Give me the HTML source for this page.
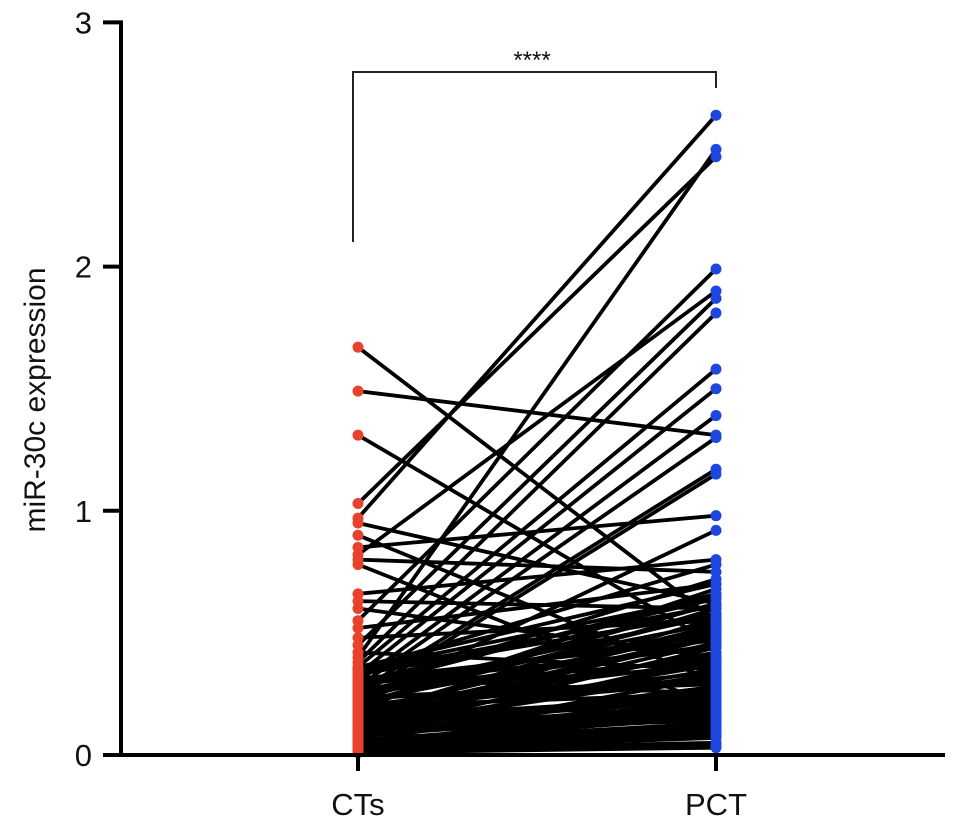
<!DOCTYPE html>
<html><head><meta charset="utf-8"><style>
html,body{margin:0;padding:0;background:#fff;}
svg{display:block;font-family:"Liberation Sans",Arial,sans-serif;}
</style></head><body>
<svg id="chart" width="969" height="833" viewBox="0 0 969 833"></svg>
<script>
const groups = ["CTs", "PCT"];
const yTicks = [0, 1, 2, 3];
const ctValues = [1.67,1.49,1.31,1.03,0.97,0.95,0.90,0.85,0.82,0.80,0.78,0.66,0.63,0.60,0.55,0.52,0.48,0.45,0.42,0.40,0.38,0.36,0.35,0.33,0.32,0.30,0.29,0.28,0.27,0.26,0.25,0.24,0.23,0.22,0.21,0.20,0.19,0.18,0.17,0.16,0.15,0.14,0.13,0.12,0.11,0.10,0.09,0.08,0.07,0.06,0.05,0.04,0.03,0.02,0.30,0.22,0.12,0.35,0.18,0.08,0.25,0.15,0.05,0.28,0.10,0.33,0.31,0.27,0.24,0.21,0.19,0.17,0.14,0.11,0.09,0.07,0.06,0.04,0.03,0.02,0.01,0.36,0.29,0.26,0.23,0.20,0.16,0.13,0.10,0.08,0.05,0.03,0.02,0.01,0.34,0.27,0.18,0.12,0.06,0.04];
const pctValues = [0.55,1.31,0.45,2.45,2.62,0.62,0.30,0.98,1.90,0.75,0.20,0.80,0.60,0.40,1.99,0.70,0.55,1.87,0.35,2.48,1.81,1.58,0.65,1.50,0.25,1.39,0.50,1.30,0.72,1.17,0.45,1.15,0.62,0.92,0.58,0.38,0.68,0.52,0.30,0.60,0.42,0.48,0.22,0.56,0.35,0.28,0.44,0.18,0.40,0.15,0.32,0.12,0.26,0.08,0.64,0.50,0.46,0.78,0.34,0.20,0.54,0.24,0.10,0.66,0.14,0.58,0.47,0.36,0.29,0.62,0.41,0.53,0.22,0.33,0.19,0.27,0.12,0.16,0.09,0.05,0.03,0.70,0.44,0.57,0.31,0.25,0.49,0.37,0.21,0.28,0.13,0.18,0.07,0.04,0.61,0.39,0.51,0.23,0.17,0.11];
const sigLabel = "****";

const svg = document.getElementById('chart');
const NS = 'http://www.w3.org/2000/svg';
const x0 = 121, y0 = 755, pxPerUnit = 244.2;
const yScale = v => y0 - v * pxPerUnit;
const xScale = i => [358, 716][i];
function mk(tag, attrs, parent) {
  const e = document.createElementNS(NS, tag);
  for (const k in attrs) e.setAttribute(k, attrs[k]);
  (parent || svg).appendChild(e);
  return e;
}
const gl = mk('g', {});


for (let i = 0; i < ctValues.length; i++) {
  const l = mk('line', {x1: xScale(0), y1: yScale(ctValues[i]), x2: xScale(1), y2: yScale(pctValues[i]), stroke: '#000', 'stroke-width': 3.8}, gl);
  
  
}
for (let i = 0; i < ctValues.length; i++) {
  const a = mk('circle', {cx: xScale(0), cy: yScale(ctValues[i]), r: 5.5, fill: '#e8412c'});
  
  
  const b = mk('circle', {cx: xScale(1), cy: yScale(pctValues[i]), r: 5.5, fill: '#1e46e0'});
  
  
}
const ya = mk('line', {x1: x0, y1: yScale(3) - 2, x2: x0, y2: y0 + 2, stroke: '#000', 'stroke-width': 4});


const xa = mk('line', {x1: x0 - 2, y1: y0, x2: 945, y2: y0, stroke: '#000', 'stroke-width': 4});


yTicks.forEach(t => {
  const tk = mk('line', {x1: 103, y1: yScale(t), x2: x0, y2: yScale(t), stroke: '#000', 'stroke-width': 4});
  
  
  const tx = mk('text', {x: 92, y: yScale(t) + 11, 'text-anchor': 'end', 'font-size': 31, fill: '#111'});
  tx.textContent = t;
  
  
});
groups.forEach((g, i) => {
  const tk = mk('line', {x1: xScale(i), y1: y0, x2: xScale(i), y2: y0 + 16, stroke: '#000', 'stroke-width': 4});
  
  
  const tx = mk('text', {x: xScale(i), y: 815, 'text-anchor': 'middle', 'font-size': 31, fill: '#111'});
  tx.textContent = g;
  
  
});
const yt = mk('text', {x: 0, y: 0, 'text-anchor': 'middle', 'font-size': 30, fill: '#111', transform: 'translate(45,400) rotate(-90)'});
yt.textContent = 'miR-30c expression';


const br = mk('polyline', {points: '353,242 353,72 716,72 716,88', fill: 'none', stroke: '#222', 'stroke-width': 2});


const sl = mk('text', {x: 532, y: 68, 'text-anchor': 'middle', 'font-size': 24, fill: '#111'});
sl.textContent = sigLabel;


</script>
</body></html>
